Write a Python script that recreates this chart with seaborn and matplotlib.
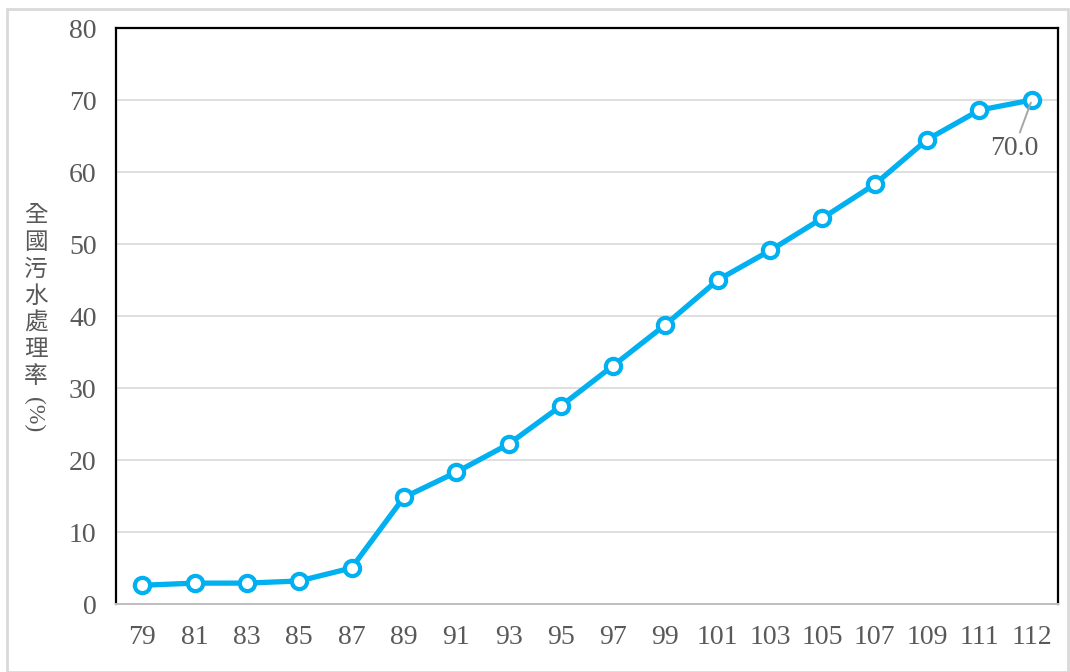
import pandas as pd
import matplotlib.pyplot as plt
import seaborn as sns
from matplotlib.patches import Rectangle

# data
years = ["79", "81", "83", "85", "87", "89", "91", "93", "95", "97",
         "99", "101", "103", "105", "107", "109", "111", "112"]
rates = [2.6, 2.9, 2.9, 3.2, 5.0, 14.8, 18.3, 22.2, 27.5, 33.1,
         38.8, 45.0, 49.1, 53.6, 58.3, 64.5, 68.6, 70.0]
y_ticks = [0, 10, 20, 30, 40, 50, 60, 70, 80]
ylabel_chars = "全國污水處理率"
last_label = "70.0"

LINE_COLOR = "#00B0F0"
TEXT_COLOR = "#595959"

sns.set_style("white")
plt.rcParams['font.family'] = ['Liberation Serif', 'Noto Sans CJK TC', 'DejaVu Sans']

df = pd.DataFrame({"year": years, "rate": rates})

fig = plt.figure(figsize=(10.70, 6.72), dpi=100)
ax = fig.add_axes([116 / 1070, 1 - 604 / 672, (1058 - 116) / 1070, (604 - 28) / 672])

sns.lineplot(data=df, x="year", y="rate", ax=ax, sort=False, color=LINE_COLOR,
             linewidth=3.8, marker="o", markersize=11, markerfacecolor="white",
             markeredgecolor=LINE_COLOR, markeredgewidth=3.0, zorder=3)

ax.set_xlim(-0.5, len(years) - 0.5)
ax.set_ylim(0, 80)
ax.set_yticks(y_ticks)
ax.yaxis.grid(True, color="#D9D9D9", linewidth=1.2)
ax.set_axisbelow(True)

ax.set_xlabel("")
ax.set_ylabel("")
ax.tick_params(axis="y", labelsize=20, labelcolor=TEXT_COLOR, color="black",
               length=8, width=1.5, direction="out", pad=6)
ax.tick_params(axis="x", labelsize=20, labelcolor=TEXT_COLOR, color="#BFBFBF",
               length=6, width=1.2, direction="out", pad=9)

for side in ["left", "top", "right"]:
    ax.spines[side].set_color("black")
    ax.spines[side].set_linewidth(1.6)
ax.spines["bottom"].set_color("#BFBFBF")
ax.spines["bottom"].set_linewidth(1.4)

# label for the last point with a leader line
ax.annotate(last_label, xy=(len(years) - 1, rates[-1]), xytext=(len(years) - 1.34, rates[-1] - 6.7),
            fontsize=20, color=TEXT_COLOR, ha="center", va="center",
            arrowprops=dict(arrowstyle="-", color="#A6A6A6", lw=1.4, shrinkA=0, shrinkB=2))

# vertical y-axis title
fig.text(36 / 1070, 1 - 296 / 672, "\n".join(ylabel_chars), fontsize=17, color=TEXT_COLOR,
         ha="center", va="center", linespacing=1.22, family=['Noto Sans CJK TC', 'DejaVu Sans'])
fig.text(34 / 1070, 1 - 415 / 672, "(%)", fontsize=17, color=TEXT_COLOR, rotation=-90,
         ha="center", va="center")

# light outer frame
fig.patches.append(Rectangle((7 / 1070, 0), 1 - 9 / 1070, 1 - 9 / 672, transform=fig.transFigure,
                             fill=False, edgecolor="#D9D9D9", linewidth=2))

fig.savefig("out.png", dpi=100)
